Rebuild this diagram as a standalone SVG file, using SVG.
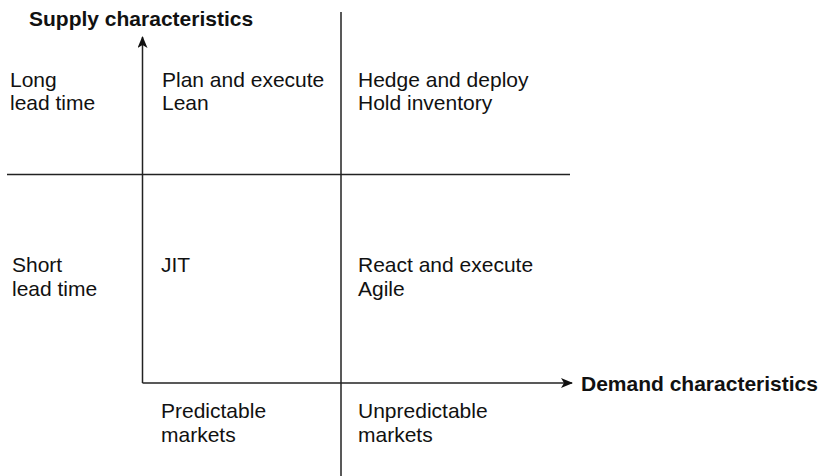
<svg xmlns="http://www.w3.org/2000/svg" width="823" height="476" viewBox="0 0 823 476">
<style>
  text { font-family: "Liberation Sans", Arial, Helvetica, sans-serif; font-size: 21px; fill: #111; }
  .b { font-weight: bold; }
  .ln { stroke: #222; stroke-width: 1.5; fill: none; }
</style>
<defs>
  <marker id="ah" viewBox="0 0 12 10" refX="11" refY="5" markerWidth="12" markerHeight="10" markerUnits="userSpaceOnUse" orient="auto">
    <path d="M0,0 L12,5 L0,10 L3,5 Z" fill="#111"/>
  </marker>
</defs>
<rect width="823" height="476" fill="#fff"/>
<g id="connectors">
  <line class="ln" x1="341" y1="12" x2="341" y2="476"/>
  <line class="ln" x1="7" y1="174.5" x2="570" y2="174.5"/>
  <line class="ln" x1="142.5" y1="383" x2="142.5" y2="37" marker-end="url(#ah)"/>
  <line class="ln" x1="142.5" y1="383" x2="572" y2="383" marker-end="url(#ah)"/>
</g>
<g id="supply-axis-label"><text class="b" x="29" y="26">Supply characteristics</text></g>
<g id="demand-axis-label"><text class="b" x="581" y="391">Demand characteristics</text></g>
<g id="long-lead"><text x="10" y="87">Long</text><text x="10" y="110">lead time</text></g>
<g id="short-lead"><text x="12" y="272">Short</text><text x="12" y="295.5">lead time</text></g>
<g id="plan-execute"><text x="162" y="87">Plan and execute</text><text x="162" y="110">Lean</text></g>
<g id="hedge-deploy"><text x="358" y="87">Hedge and deploy</text><text x="358" y="110">Hold inventory</text></g>
<g id="jit"><text x="161" y="272">JIT</text></g>
<g id="react-execute"><text x="358" y="272">React and execute</text><text x="358" y="295.5">Agile</text></g>
<g id="predictable"><text x="161" y="418">Predictable</text><text x="161" y="441.5">markets</text></g>
<g id="unpredictable"><text x="358" y="418">Unpredictable</text><text x="358" y="441.5">markets</text></g>
</svg>
